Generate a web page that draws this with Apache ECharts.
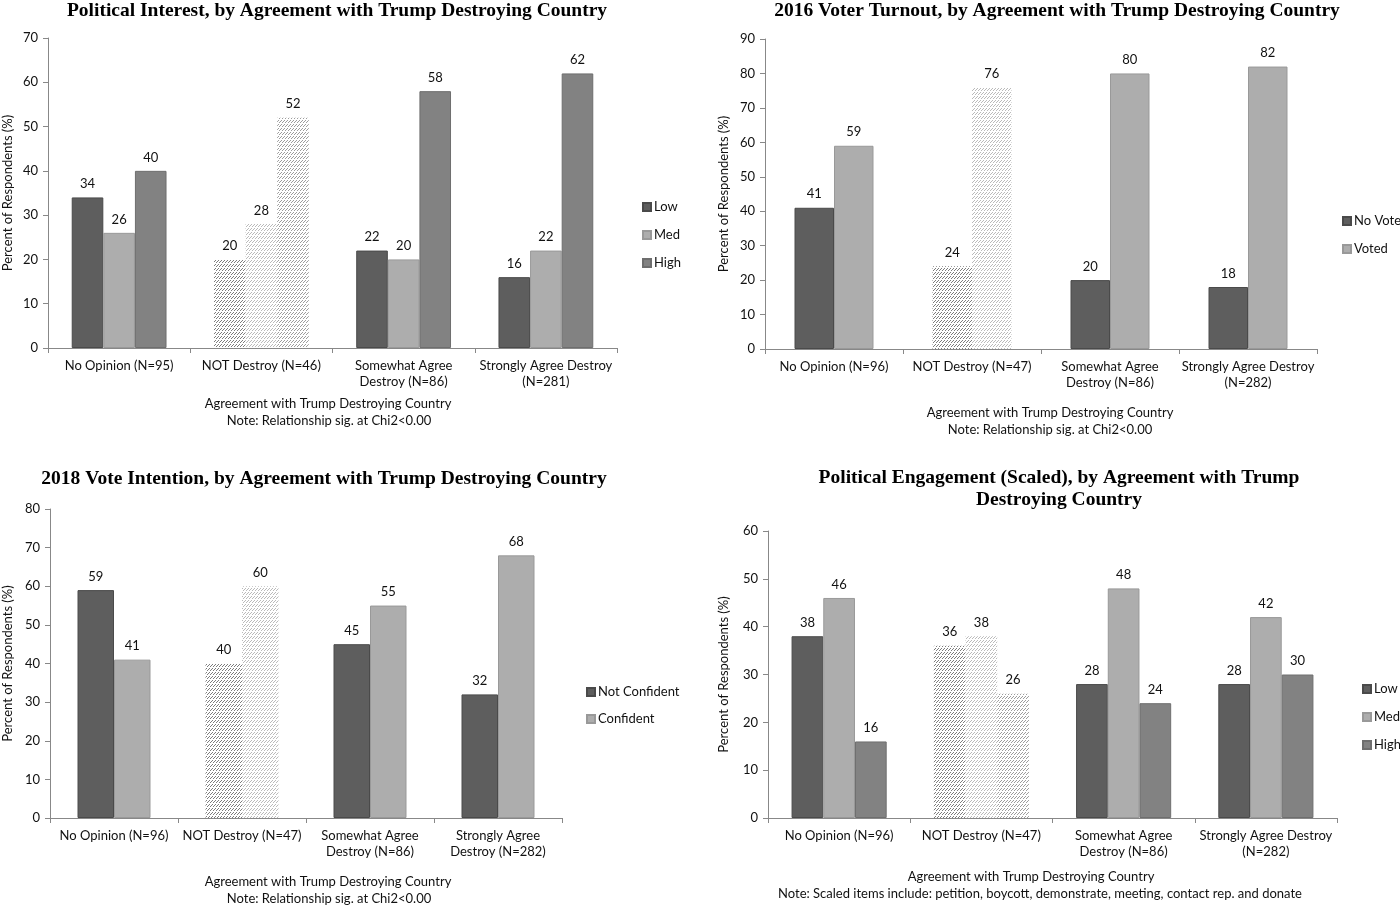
<!DOCTYPE html>
<html>
<head>
<meta charset="utf-8">
<script src="https://cdn.jsdelivr.net/npm/echarts@6/dist/echarts.min.js"></script>
<style>
html,body{margin:0;padding:0;background:#fff;}
#c{width:1400px;height:907px;}
</style>
</head>
<body>
<div id="c"></div>
<script>
// ---- Data ----
const cats1 = ["No Opinion (N=95)", "NOT Destroy (N=46)", "Somewhat Agree\nDestroy (N=86)", "Strongly Agree Destroy\n(N=281)"];
const cats2 = ["No Opinion (N=96)", "NOT Destroy (N=47)", "Somewhat Agree\nDestroy (N=86)", "Strongly Agree Destroy\n(N=282)"];
const cats3 = ["No Opinion (N=96)", "NOT Destroy (N=47)", "Somewhat Agree\nDestroy (N=86)", "Strongly Agree\nDestroy (N=282)"];
const cats4 = ["No Opinion (N=96)", "NOT Destroy (N=47)", "Somewhat Agree\nDestroy (N=86)", "Strongly Agree Destroy\n(N=282)"];

const interestLow = [34, 20, 22, 16];
const interestMed = [26, 28, 20, 22];
const interestHigh = [40, 52, 58, 62];

const turnoutNoVote = [41, 24, 20, 18];
const turnoutVoted = [59, 76, 80, 82];

const intentNotConf = [59, 40, 45, 32];
const intentConf = [41, 60, 55, 68];

const engageLow = [38, 36, 28, 28];
const engageMed = [46, 38, 48, 42];
const engageHigh = [16, 26, 24, 30];

const titles = [
  "Political Interest, by Agreement with Trump Destroying Country",
  "2016 Voter Turnout, by Agreement with Trump Destroying Country",
  "2018 Vote Intention, by Agreement with Trump Destroying Country",
  "Political Engagement (Scaled), by Agreement with Trump\nDestroying Country"
];
const xName = "Agreement with Trump Destroying Country";
const notes = [
  "Note: Relationship sig. at Chi2<0.00",
  "Note: Relationship sig. at Chi2<0.00",
  "Note: Relationship sig. at Chi2<0.00",
  "Note: Scaled items include: petition, boycott, demonstrate, meeting, contact rep. and donate"
];
const yName = "Percent of Respondents (%)";
const yMax = [70, 90, 80, 60];

// ---- Styles ----
const FONT = "Lato, 'Open Sans', sans-serif";
const C = {
  dark: {fill: '#5e5e5e', border: '#4a4a4a', hatch: '#7c7c7c'},
  light: {fill: '#adadad', border: '#999999', hatch: '#bababa'},
  mid: {fill: '#828282', border: '#6e6e6e', hatch: '#9c9c9c'}
};

function hatch(color) {
  const c = document.createElement('canvas');
  c.width = 3; c.height = 4;
  const g = c.getContext('2d');
  g.fillStyle = color;
  g.fillRect(0, 2, 1, 1);
  g.fillRect(1, 1, 1, 1);
  g.fillRect(2, 0, 1, 1);
  return {image: c, repeat: 'repeat'};
}

const grids = [
  {left: 45, top: 38, width: 572, height: 310},
  {left: 765, top: 39, width: 552, height: 310},
  {left: 44, top: 509, width: 518, height: 309},
  {left: 768, top: 531, width: 569, height: 287}
];
const barW = [31.6, 39.5, 36.5, 31.7];
const yNameGap = [34, 35, 36, 38];

function mkSeries(name, values, col, gi) {
  const pat = hatch(col.hatch);
  return {
    name: name,
    type: 'bar',
    xAxisIndex: gi,
    yAxisIndex: gi,
    barWidth: barW[gi],
    barGap: '0%',
    itemStyle: {color: col.fill, borderColor: col.border, borderWidth: 1},
    label: {show: true, position: 'top', distance: 7, color: '#111', fontFamily: FONT, fontSize: 13},
    data: values.map((v, i) => i === 1 ? {value: v, itemStyle: {color: pat, borderWidth: 0}} : v),
    animation: false
  };
}

const catsAll = [cats1, cats2, cats3, cats4];
const xAxes = catsAll.map((cats, i) => ({
  type: 'category',
  gridIndex: i,
  data: cats,
  axisLine: {lineStyle: {color: '#888888', width: 1}},
  axisTick: {show: true, length: 5, lineStyle: {color: '#888888'}},
  axisLabel: {color: '#111', fontFamily: FONT, fontSize: 13, lineHeight: 16, margin: 10, interval: 0}
}));
const yAxes = yMax.map((m, i) => ({
  type: 'value',
  gridIndex: i,
  min: 0,
  max: m,
  interval: 10,
  name: yName,
  nameLocation: 'middle',
  nameGap: yNameGap[i],
  nameTextStyle: {color: '#111', fontFamily: FONT, fontSize: 13},
  axisLine: {show: true, lineStyle: {color: '#888888', width: 1}},
  axisTick: {show: true, length: 5, lineStyle: {color: '#888888'}},
  axisLabel: {color: '#111', fontFamily: FONT, fontSize: 13, margin: 10},
  splitLine: {show: false}
}));

const series = [
  mkSeries('Low', interestLow, C.dark, 0),
  mkSeries('Med', interestMed, C.light, 0),
  mkSeries('High', interestHigh, C.mid, 0),
  mkSeries('No Vote', turnoutNoVote, C.dark, 1),
  mkSeries('Voted', turnoutVoted, C.light, 1),
  mkSeries('Not Confident', intentNotConf, C.dark, 2),
  mkSeries('Confident', intentConf, C.light, 2),
  mkSeries('Low ', engageLow, C.dark, 3),
  mkSeries('Med ', engageMed, C.light, 3),
  mkSeries('High ', engageHigh, C.mid, 3)
];

const legendBase = {
  orient: 'vertical',
  itemWidth: 8,
  itemHeight: 8,
  icon: 'rect',
  itemGap: 12,
  selectedMode: false,
  textStyle: {color: '#111', fontFamily: FONT, fontSize: 13, lineHeight: 16, padding: [0, 0, 0, -2]},
  padding: 0
};
const legends = [
  Object.assign({}, legendBase, {left: 642, top: 199, data: ['Low', 'Med', 'High']}),
  Object.assign({}, legendBase, {left: 1342, top: 213, data: ['No Vote', 'Voted']}),
  Object.assign({}, legendBase, {left: 586, top: 684, itemGap: 11, data: ['Not Confident', 'Confident']}),
  Object.assign({}, legendBase, {left: 1362, top: 681, data: ['Low ', 'Med ', 'High ']})
];

const titleStyle = {color: '#000', fontFamily: "'Liberation Serif', 'Times New Roman', serif", fontWeight: 'bold', fontSize: 19.5, lineHeight: 22};
const titleComps = [
  {text: titles[0], left: 337, top: 0, textAlign: 'center', textStyle: titleStyle, padding: 0},
  {text: titles[1], left: 1057, top: 0, textAlign: 'center', textStyle: titleStyle, padding: 0},
  {text: titles[2], left: 324, top: 468, textAlign: 'center', textStyle: titleStyle, padding: 0},
  {text: titles[3], left: 1059, top: 467, textAlign: 'center', textStyle: titleStyle, padding: 0}
];

const noteTxt = (x, y, t) => ({
  type: 'text', x: x, y: y,
  style: {text: t, fill: '#111', font: "13px " + FONT, textAlign: 'center', textVerticalAlign: 'middle'}
});
const graphics = [
  noteTxt(328, 404, xName), noteTxt(329, 421, notes[0]),
  noteTxt(1050, 413, xName), noteTxt(1050, 430, notes[1]),
  noteTxt(328, 882, xName), noteTxt(329, 899, notes[2]),
  noteTxt(1031, 877, xName), noteTxt(1040, 894, notes[3])
];

const chart = echarts.init(document.getElementById('c'), null, {renderer: 'canvas'});
chart.setOption({
  backgroundColor: '#ffffff',
  animation: false,
  title: titleComps,
  legend: legends,
  grid: grids,
  xAxis: xAxes,
  yAxis: yAxes,
  series: series,
  graphic: graphics
});
</script>
</body>
</html>
